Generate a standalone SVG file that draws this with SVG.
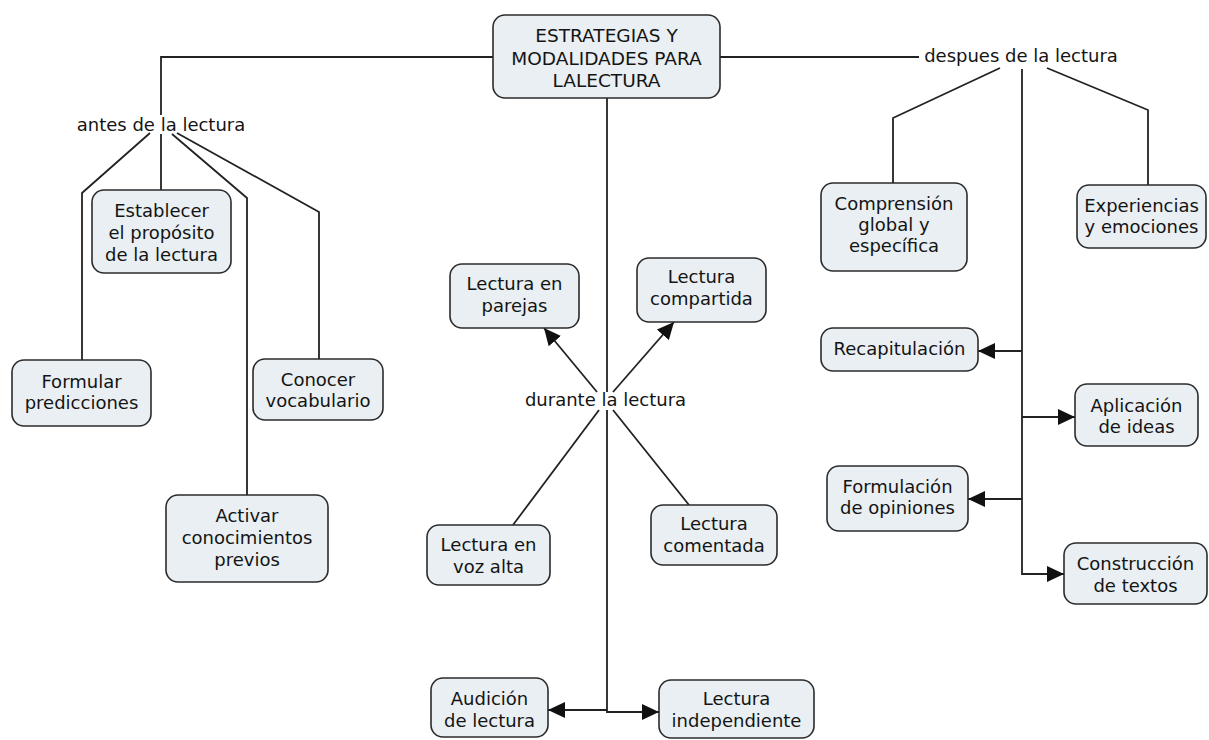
<svg xmlns="http://www.w3.org/2000/svg" width="1209" height="740" viewBox="0 0 1209 740">
<style>
.box{fill:#e9eff2;stroke:#2b2b2b;stroke-width:1.6}
text{font-family:"DejaVu Sans","Liberation Sans",sans-serif;font-size:18px;fill:#141414;text-anchor:middle}
.ln{fill:none;stroke:#222;stroke-width:1.8}
</style>
<defs>
<marker id="ar" markerUnits="userSpaceOnUse" markerWidth="18" markerHeight="16" refX="17" refY="8" orient="auto">
<path d="M0,0 L17,8 L0,16 Z" fill="#111"/>
</marker>
</defs>
<rect width="1209" height="740" fill="#fff"/>
<g id="connectors">
<path class="ln" d="M493 57 H161 V115"/>
<path class="ln" d="M161 134 V190"/>
<path class="ln" d="M150 133 L82 193 V360"/>
<path class="ln" d="M172 134 L247 198 V495"/>
<path class="ln" d="M177 133 L319 212 V359"/>
<path class="ln" d="M720 57 H919"/>
<path class="ln" d="M607 98 V392"/>
<path class="ln" d="M607 410 V712 H659" marker-end="url(#ar)"/>
<path class="ln" d="M607 710 H548" marker-end="url(#ar)"/>
<path class="ln" d="M597 392 L544 328" marker-end="url(#ar)"/>
<path class="ln" d="M613 392 L674 322" marker-end="url(#ar)"/>
<path class="ln" d="M599 410 L513 525"/>
<path class="ln" d="M613 410 L689 505"/>
<path class="ln" d="M1000 68 L893 118 V183"/>
<path class="ln" d="M1047 68 L1148 110 V185"/>
<path class="ln" d="M1022 69 V574 H1064" marker-end="url(#ar)"/>
<path class="ln" d="M1022 351 H978" marker-end="url(#ar)"/>
<path class="ln" d="M1022 417 H1075" marker-end="url(#ar)"/>
<path class="ln" d="M1022 499 H968" marker-end="url(#ar)"/>
</g>
<g id="main"><rect class="box" x="493" y="15" width="227" height="83" rx="12"/>
<text x="606.5" y="42" style="font-size:18.5px">ESTRATEGIAS Y</text><text x="606.5" y="65" style="font-size:18.5px">MODALIDADES PARA</text><text x="606.5" y="87" style="font-size:18.5px">LALECTURA</text></g>
<g id="antes"><text x="161" y="131">antes de la lectura</text></g>
<g id="durante"><text x="605.5" y="406">durante la lectura</text></g>
<g id="despues"><text x="1021" y="62">despues de la lectura</text></g>
<g id="establecer"><rect class="box" x="92" y="190" width="139" height="83" rx="12"/>
<text x="161.5" y="217">Establecer</text><text x="161.5" y="239">el propósito</text><text x="161.5" y="261">de la lectura</text></g>
<g id="formular"><rect class="box" x="12" y="360" width="139" height="66" rx="12"/>
<text x="81.5" y="388">Formular</text><text x="81.5" y="409">predicciones</text></g>
<g id="conocer"><rect class="box" x="253" y="359" width="130" height="61" rx="12"/>
<text x="318" y="386">Conocer</text><text x="318" y="407">vocabulario</text></g>
<g id="activar"><rect class="box" x="166" y="495" width="162" height="87" rx="12"/>
<text x="247" y="522">Activar</text><text x="247" y="544">conocimientos</text><text x="247" y="566">previos</text></g>
<g id="parejas"><rect class="box" x="450" y="264" width="129" height="64" rx="12"/>
<text x="514.5" y="290">Lectura en</text><text x="514.5" y="312">parejas</text></g>
<g id="compartida"><rect class="box" x="637" y="258" width="129" height="64" rx="12"/>
<text x="701.5" y="283">Lectura</text><text x="701.5" y="305">compartida</text></g>
<g id="vozalta"><rect class="box" x="427" y="525" width="123" height="60" rx="12"/>
<text x="488.5" y="551">Lectura en</text><text x="488.5" y="573">voz alta</text></g>
<g id="comentada"><rect class="box" x="651" y="505" width="126" height="60" rx="12"/>
<text x="714" y="530">Lectura</text><text x="714" y="552">comentada</text></g>
<g id="audicion"><rect class="box" x="431" y="678" width="117" height="59" rx="12"/>
<text x="489.5" y="705">Audición</text><text x="489.5" y="727">de lectura</text></g>
<g id="independiente"><rect class="box" x="659" y="680" width="155" height="58" rx="12"/>
<text x="736.5" y="705">Lectura</text><text x="736.5" y="727">independiente</text></g>
<g id="comprension"><rect class="box" x="821" y="183" width="146" height="88" rx="12"/>
<text x="894" y="210">Comprensión</text><text x="894" y="231">global y</text><text x="894" y="252">específica</text></g>
<g id="experiencias"><rect class="box" x="1077" y="185" width="129" height="63" rx="12"/>
<text x="1141.5" y="212">Experiencias</text><text x="1141.5" y="233">y emociones</text></g>
<g id="recapitulacion"><rect class="box" x="821" y="328" width="157" height="43" rx="12"/>
<text x="899.5" y="355">Recapitulación</text></g>
<g id="aplicacion"><rect class="box" x="1075" y="384" width="123" height="62" rx="12"/>
<text x="1136.5" y="412">Aplicación</text><text x="1136.5" y="433">de ideas</text></g>
<g id="formulacion"><rect class="box" x="827" y="466" width="141" height="65" rx="12"/>
<text x="897.5" y="493">Formulación</text><text x="897.5" y="514">de opiniones</text></g>
<g id="construccion"><rect class="box" x="1064" y="543" width="143" height="61" rx="12"/>
<text x="1135.5" y="570">Construcción</text><text x="1135.5" y="592">de textos</text></g>
</svg>
